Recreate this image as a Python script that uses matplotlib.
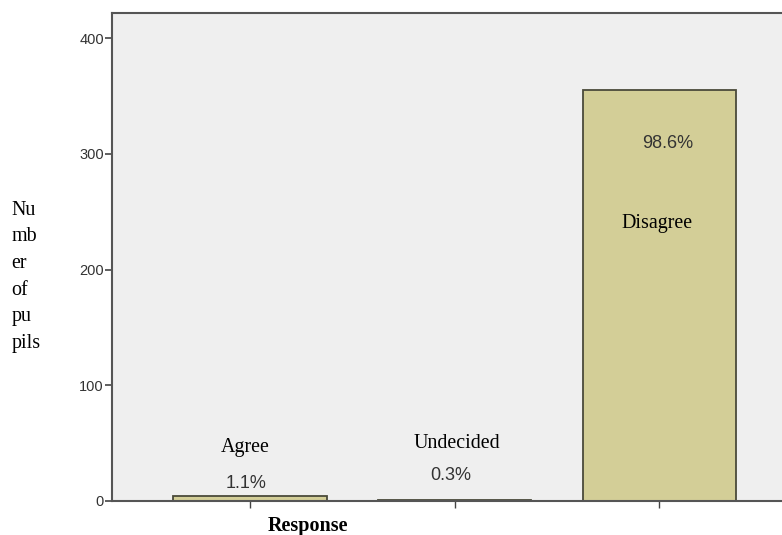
import matplotlib
matplotlib.use('Agg')
import matplotlib.pyplot as plt

responses = ['Agree', 'Undecided', 'Disagree']
counts = [4, 1, 355]
percent_labels = ['1.1%', '0.3%', '98.6%']
yticks = [0, 100, 200, 300, 400]

fig = plt.figure(figsize=(7.82, 5.35), dpi=100)
ax = fig.add_axes([0.1435, 0.0636, 0.8565, 0.912])
ax.set_facecolor('#efefef')

x = list(range(len(responses)))
ax.bar(x, counts, width=0.75, color='#d3ce97', edgecolor='#4a4a3a', linewidth=1.3)

ax.set_xlim(-0.671, 2.598)
ax.set_ylim(0, 421.6)
ax.set_yticks(yticks)
ax.set_yticklabels([str(t) for t in yticks], fontsize=10.5, color='#333333', family='Liberation Sans')
ax.set_xticks(x)
ax.set_xticklabels([''] * len(x))
ax.tick_params(axis='y', length=5, width=1.2, color='#444444', pad=1)
ax.tick_params(axis='x', length=5, width=1, color='#444444')

for side in ['left', 'bottom', 'top']:
    ax.spines[side].set_color('#555555')
    ax.spines[side].set_linewidth(1.5)
ax.spines['right'].set_visible(False)

# category names and percentages inside the plot
name_pos = [(-0.02, 45.8), (1.01, 50.0), (1.99, 240.0)]
pct_pos = [(-0.02, 15.5), (0.98, 21.6), (2.04, 309.0)]
for i in range(len(responses)):
    ax.text(name_pos[i][0], name_pos[i][1], responses[i], ha='center', va='center',
            fontsize=14.4, family='Liberation Serif', color='black')
    ax.text(pct_pos[i][0], pct_pos[i][1], percent_labels[i], ha='center', va='center',
            fontsize=13, family='Liberation Serif' if False else 'Liberation Sans', color='#333333')

fig.text(0.015, 0.625, 'Nu\nmb\ner\nof\npu\npils', ha='left', va='top',
         fontsize=14.4, family='Liberation Serif', linespacing=1.55)
fig.text(308 / 782, 1 - 516 / 535, 'Response', ha='center', va='top',
         fontsize=14.5, family='Liberation Serif', fontweight='bold')

fig.savefig('out.png', dpi=100)
